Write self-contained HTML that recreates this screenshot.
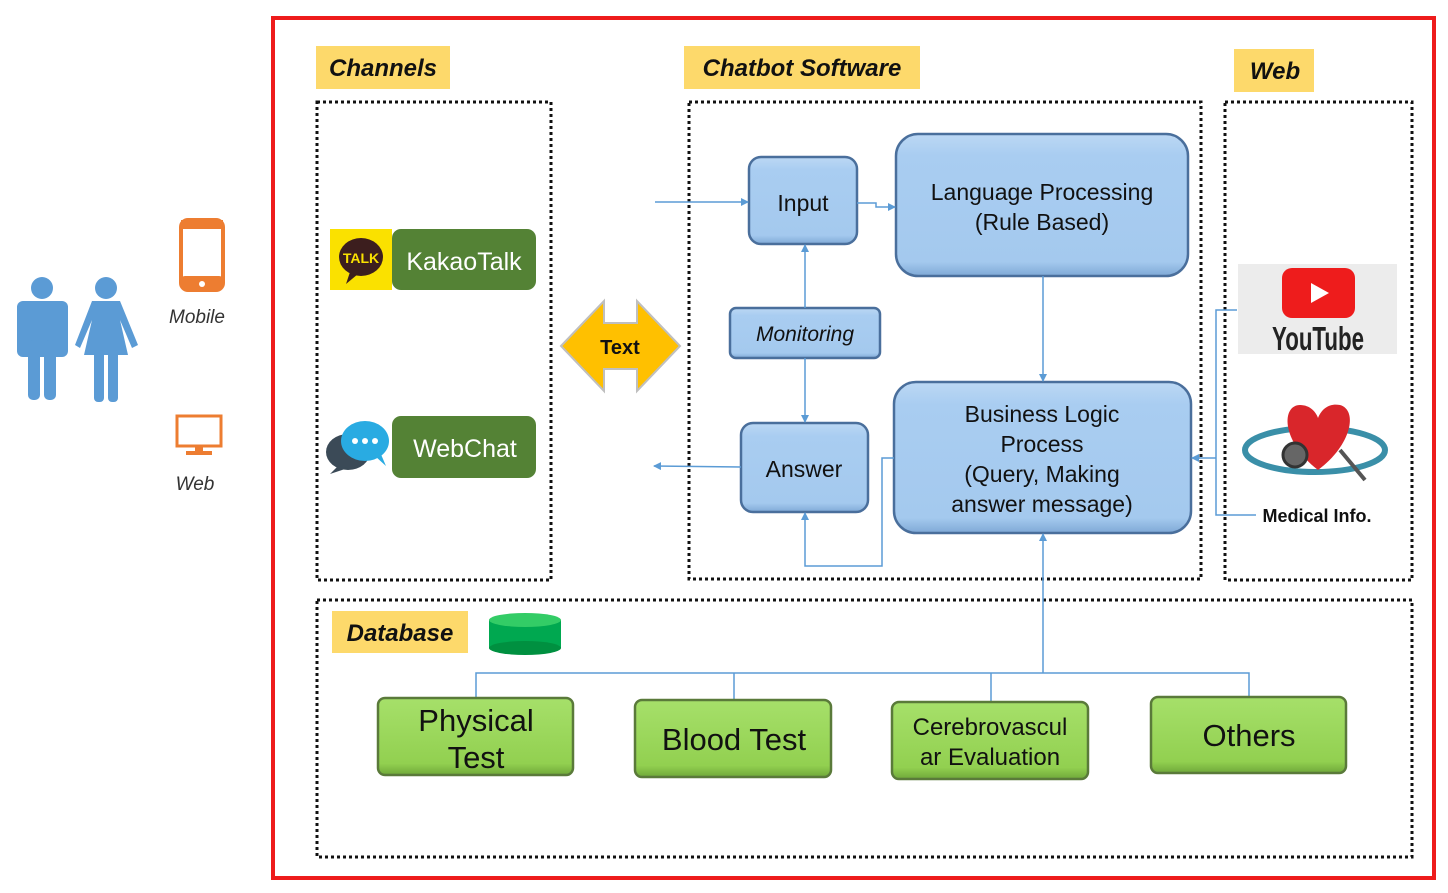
<!DOCTYPE html>
<html><head><meta charset="utf-8"><style>
html,body{margin:0;padding:0;background:#fff;}
svg{display:block;font-family:"Liberation Sans","DejaVu Sans",sans-serif;}
</style></head><body>
<svg width="1448" height="893" viewBox="0 0 1448 893" xmlns="http://www.w3.org/2000/svg">
<defs>
<marker id="a" markerWidth="8" markerHeight="8" refX="7" refY="4" orient="auto" markerUnits="userSpaceOnUse"><path d="M0,0 L8,4 L0,8 Z" fill="#5b9bd5"/></marker>
<linearGradient id="bl" x1="0" y1="0" x2="0" y2="1"><stop offset="0" stop-color="#bcd8f4"/><stop offset="0.15" stop-color="#a9cdf1"/><stop offset="0.9" stop-color="#a4c9ee"/><stop offset="1" stop-color="#7fa9d6"/></linearGradient>
<linearGradient id="gr" x1="0" y1="0" x2="0" y2="1"><stop offset="0" stop-color="#a6e06a"/><stop offset="0.85" stop-color="#92d050"/><stop offset="1" stop-color="#6fa83a"/></linearGradient>
</defs>
<!-- red frame -->
<rect x="273" y="18" width="1161" height="860" fill="none" stroke="#ee1c1c" stroke-width="4"/>
<!-- labels -->
<g font-weight="bold" font-style="italic" font-size="24" fill="#111">
<rect x="316" y="46" width="134" height="43" fill="#fdd96b"/><text x="383" y="76" text-anchor="middle">Channels</text>
<rect x="684" y="46" width="236" height="43" fill="#fdd96b"/><text x="802" y="76" text-anchor="middle">Chatbot Software</text>
<rect x="1234" y="49" width="80" height="43" fill="#fdd96b"/><text x="1275" y="79" text-anchor="middle">Web</text>
<rect x="332" y="611" width="136" height="42" fill="#fdd96b"/><text x="400" y="641" text-anchor="middle">Database</text>
</g>
<!-- dotted boxes -->
<g fill="none" stroke="#111" stroke-width="3" stroke-dasharray="3,3">
<rect x="317" y="102" width="234" height="478"/>
<rect x="689" y="102" width="512" height="477"/>
<rect x="1225" y="102" width="187" height="478"/>
<rect x="317" y="600" width="1095" height="257"/>
</g>
<!-- people -->
<g fill="#5b9bd5">
<circle cx="42" cy="288" r="11"/><rect x="17" y="301" width="51" height="56" rx="6"/><rect x="28" y="340" width="12" height="60" rx="5"/><rect x="44" y="340" width="12" height="60" rx="5"/>
<circle cx="106" cy="288" r="11"/><path d="M92,301 L120,301 L138,345 L132,348 L120,320 L128,355 L84,355 L92,320 L80,348 L75,345 Z"/><rect x="94" y="350" width="10" height="52" rx="4"/><rect x="108" y="350" width="10" height="52" rx="4"/>
</g>
<!-- phone -->
<rect x="181" y="220" width="42" height="70" rx="7" fill="#fff" stroke="#ed7d31" stroke-width="4"/>
<rect x="181" y="220" width="42" height="9" fill="#ed7d31"/><rect x="181" y="276" width="42" height="14" rx="4" fill="#ed7d31"/><circle cx="202" cy="284" r="3" fill="#fff"/>
<text x="197" y="323" font-size="19" font-style="italic" fill="#333" text-anchor="middle">Mobile</text>
<!-- monitor -->
<rect x="177" y="416" width="44" height="30" fill="#fff" stroke="#ed7d31" stroke-width="3"/><rect x="195" y="446" width="8" height="6" fill="#ed7d31"/><rect x="186" y="451" width="26" height="4" fill="#ed7d31"/>
<text x="195" y="490" font-size="19" font-style="italic" fill="#333" text-anchor="middle">Web</text>
<!-- Kakao -->
<rect x="330" y="229" width="62" height="61" fill="#fae100"/>
<ellipse cx="361" cy="257" rx="22" ry="19" fill="#3c1e1e"/><path d="M350,272 L346,284 L358,274 Z" fill="#3c1e1e"/>
<text x="361" y="263" font-size="14" font-weight="bold" fill="#fae100" text-anchor="middle">TALK</text>
<rect x="392" y="229" width="144" height="61" rx="9" fill="#548235"/>
<text x="464" y="270" font-size="25" fill="#fff" text-anchor="middle">KakaoTalk</text>
<!-- WebChat -->
<ellipse cx="348" cy="452" rx="22" ry="18" fill="#3b4a57"/><path d="M338,466 L330,474 L348,468Z" fill="#3b4a57"/>
<ellipse cx="365" cy="441" rx="24" ry="20" fill="#29abe2"/><path d="M375,456 L386,466 L380,452Z" fill="#29abe2"/>
<circle cx="355" cy="441" r="3" fill="#fff"/><circle cx="365" cy="441" r="3" fill="#fff"/><circle cx="375" cy="441" r="3" fill="#fff"/>
<rect x="392" y="416" width="144" height="62" rx="9" fill="#548235"/>
<text x="465" y="457" font-size="25" fill="#fff" text-anchor="middle">WebChat</text>
<!-- Text double arrow -->
<path d="M561,346 L604,301 L604,323 L637,323 L637,301 L680,346 L637,391 L637,369 L604,369 L604,391 Z" fill="#ffc000" stroke="#bfbfbf" stroke-width="2"/>
<text x="620" y="354" font-size="20" font-weight="bold" fill="#111" text-anchor="middle">Text</text>
<!-- blue boxes -->
<g stroke="#4a6f9c" stroke-width="2.5" fill="url(#bl)">
<rect x="749" y="157" width="108" height="87" rx="12"/>
<rect x="896" y="134" width="292" height="142" rx="22"/>
<rect x="730" y="308" width="150" height="50" rx="6"/>
<rect x="741" y="423" width="127" height="89" rx="12"/>
<rect x="894" y="382" width="297" height="151" rx="22"/>
</g>
<g font-size="23" fill="#111" text-anchor="middle">
<text x="803" y="211">Input</text>
<text x="1042" y="200">Language Processing</text><text x="1042" y="230">(Rule Based)</text>
<text x="805" y="341" font-style="italic" font-size="21">Monitoring</text>
<text x="804" y="477">Answer</text>
<text x="1042" y="422">Business Logic</text><text x="1042" y="452">Process</text><text x="1042" y="482">(Query, Making</text><text x="1042" y="512">answer message)</text>
</g>
<!-- connectors -->
<g fill="none" stroke="#5b9bd5" stroke-width="1.5">
<path d="M655,202 L748,202" marker-end="url(#a)"/>
<path d="M857,203 L876,203 L876,207 L895,207" marker-end="url(#a)"/>
<path d="M805,308 L805,245" marker-end="url(#a)"/>
<path d="M805,358 L805,422" marker-end="url(#a)"/>
<path d="M741,467 L654,466" marker-end="url(#a)"/>
<path d="M894,458 L882,458 L882,566 L805,566 L805,513" marker-end="url(#a)"/>
<path d="M1043,276 L1043,381" marker-end="url(#a)"/>
<path d="M1043,673 L1043,534" marker-end="url(#a)"/>
<path d="M476,698 L476,673 L1249,673 L1249,697 M734,673 L734,700 M991,673 L991,702"/>
<path d="M1237,310 L1216,310 L1216,515 L1256,515 M1216,458 L1193,458" />
<path d="M1200,458 L1192,458" marker-end="url(#a)"/>
</g>
<!-- YouTube -->
<rect x="1238" y="264" width="159" height="90" fill="#ececec"/>
<rect x="1282" y="268" width="73" height="50" rx="10" fill="#ee1c1c"/><path d="M1311,283 L1311,303 L1329,293 Z" fill="#fff"/>
<text x="1318" y="350" font-size="33" font-weight="bold" fill="#222" text-anchor="middle" textLength="92" lengthAdjust="spacingAndGlyphs">YouTube</text>
<!-- medical -->
<ellipse cx="1315" cy="450" rx="70" ry="22" fill="none" stroke="#3a8fa8" stroke-width="6"/>
<path d="M1318,470 C1280,440 1282,405 1300,405 C1310,405 1316,412 1318,418 C1322,408 1330,403 1340,405 C1358,410 1352,445 1318,470 Z" fill="#d9262b"/>
<circle cx="1295" cy="455" r="12" fill="#666" stroke="#333" stroke-width="3"/>
<path d="M1340,450 L1365,480" stroke="#555" stroke-width="4"/>
<text x="1317" y="522" font-size="18" font-weight="bold" fill="#111" text-anchor="middle">Medical Info.</text>
<!-- cylinder -->
<rect x="489" y="620" width="72" height="28" fill="#00a850"/>
<ellipse cx="525" cy="648" rx="36" ry="7" fill="#009040"/>
<ellipse cx="525" cy="620" rx="36" ry="7" fill="#33cc66"/>
<!-- green boxes -->
<g stroke="#5a7a3a" stroke-width="2.5" fill="url(#gr)">
<rect x="378" y="698" width="195" height="77" rx="7"/>
<rect x="635" y="700" width="196" height="77" rx="7"/>
<rect x="892" y="702" width="196" height="77" rx="7"/>
<rect x="1151" y="697" width="195" height="76" rx="7"/>
</g>
<g fill="#111" text-anchor="middle">
<text x="476" y="731" font-size="31">Physical</text><text x="476" y="768" font-size="31">Test</text>
<text x="734" y="750" font-size="31">Blood Test</text>
<text x="990" y="735" font-size="24">Cerebrovascul</text><text x="990" y="765" font-size="24">ar Evaluation</text>
<text x="1249" y="746" font-size="31">Others</text>
</g>
</svg>
</body></html>
